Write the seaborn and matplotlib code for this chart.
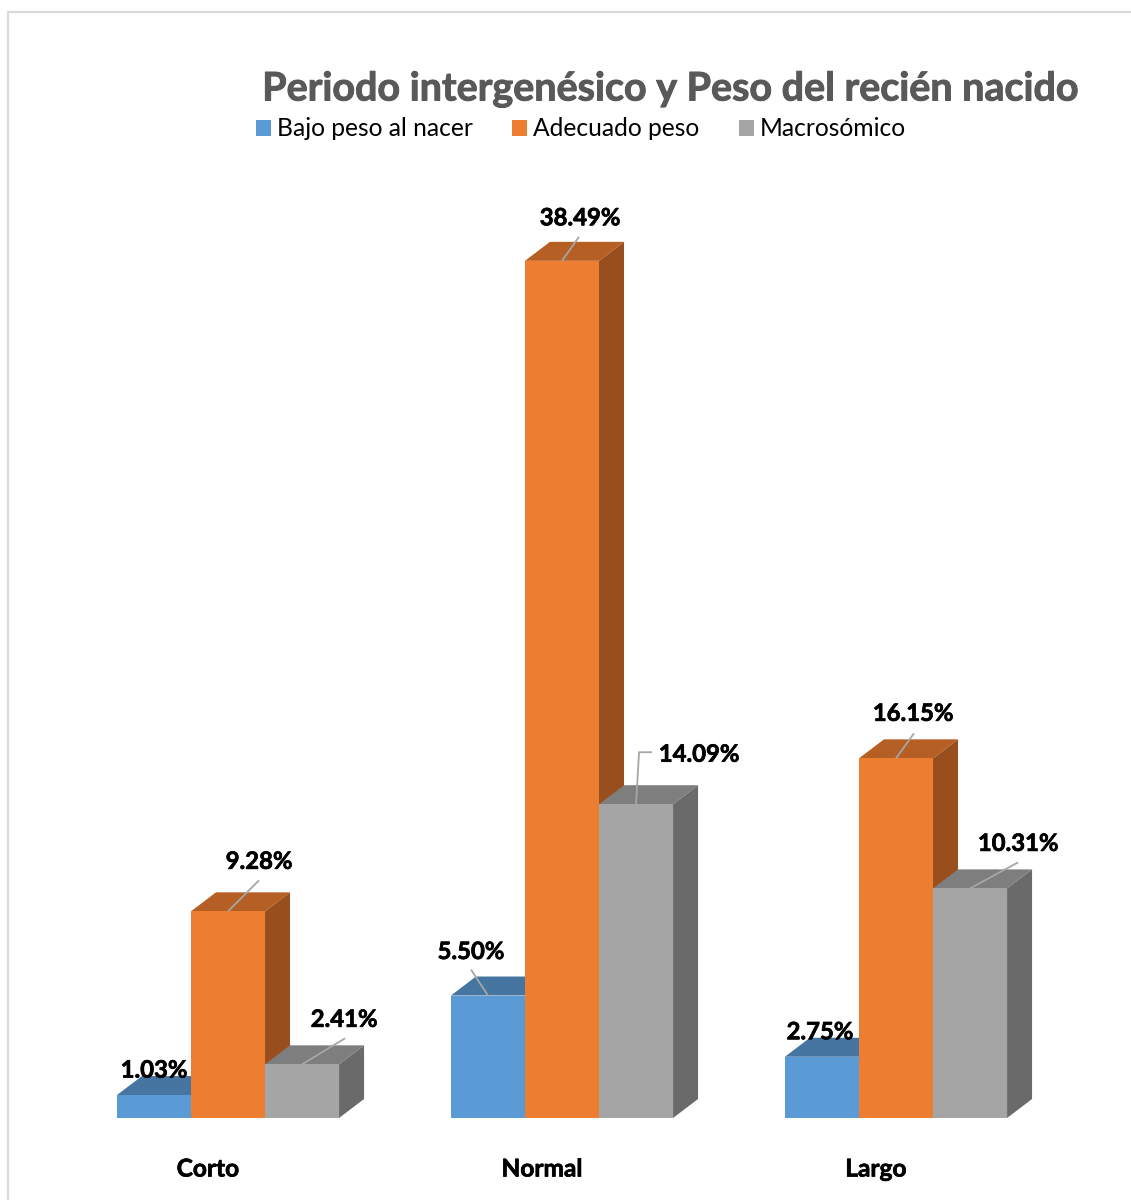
import matplotlib
matplotlib.use('Agg')
import matplotlib.pyplot as plt
import matplotlib.patheffects as pe
from matplotlib.lines import Line2D
from matplotlib.patches import Polygon
import pandas as pd
import seaborn as sns

# Values
periodos = ['Corto', 'Normal', 'Largo']
bajo_peso = [1.03, 5.50, 2.75]
adecuado_peso = [9.28, 38.49, 16.15]
macrosomico = [2.41, 14.09, 10.31]
series_names = ['Bajo peso al nacer', 'Adecuado peso', 'Macrosómico']

front_colors = ['#5B9BD5', '#ED7D31', '#A5A5A5']
top_colors = ['#4675A1', '#B55F25', '#7E7E7E']
side_colors = ['#3F6A91', '#994F1D', '#6A6A6A']

W, H = 1131, 1200
PX_PER_CAT = 334.0
PX_PER_UNIT = 22.27
DEPTH_X, DEPTH_Y = 25, 19

# label offset from the top centre of each bar, in pixels (right, up)
label_offsets = [
    [(0, 25), (31, 50), (42, 45)],
    [(-17, 44), (18, 43), (63, 50)],
    [(-2, 25), (17, 45), (48, 45)],
]
leaders = [
    [None, [(0, 0), (31, 31)], [(0, 0), (43, 26)]],
    [[(0, 0), (-17, 26)], [(0, 0), (17, 24)], [(0, 0), (3, 52), (16, 52)]],
    [None, [(0, 0), (18, 25)], [(0, 0), (48, 26)]],
]

df = pd.DataFrame({
    'periodo': periodos * 3,
    'peso': [n for n in series_names for _ in periodos],
    'pct': bajo_peso + adecuado_peso + macrosomico,
})

sns.set_theme(style='white')
plt.rcParams['font.family'] = ['Lato', 'DejaVu Sans']

fig = plt.figure(figsize=(W / 100, H / 100), dpi=100)
ax = fig.add_axes([0, 0, 1, 1])
sns.barplot(data=df, x='periodo', y='pct', hue='peso', hue_order=series_names,
            palette=front_colors, saturation=1, width=0.665, gap=0, errorbar=None,
            edgecolor='none', linewidth=0, ax=ax, legend=True)

# pixel frame of the picture: first category centre at x=228, baseline at y=1118
ax.set_xlim(-228 / PX_PER_CAT, (W - 228) / PX_PER_CAT)
ax.set_ylim(-(H - 1118) / PX_PER_UNIT, 1118 / PX_PER_UNIT)
ax.axis('off')

dx = DEPTH_X / PX_PER_CAT
dy = DEPTH_Y / PX_PER_UNIT

# Fake 3D: side and top faces built from the bars seaborn drew
z = 3
for cat in range(len(periodos)):
    for s, container in enumerate(ax.containers):
        bar = container[cat]
        x0, x1 = bar.get_x(), bar.get_x() + bar.get_width()
        h = bar.get_height()
        side = Polygon([(x1, 0), (x1 + dx, dy), (x1 + dx, h + dy), (x1, h)],
                       fc=side_colors[s], ec='none', zorder=z)
        top = Polygon([(x0, h), (x0 + dx, h + dy), (x1 + dx, h + dy), (x1, h)],
                      fc=top_colors[s], ec='none', zorder=z + 1)
        ax.add_patch(side)
        ax.add_patch(top)
        bar.set_zorder(z + 2)
        z += 3

bold_black = [pe.withStroke(linewidth=0.5, foreground='black')]

# Data labels and leader lines
for cat in range(len(periodos)):
    for s, container in enumerate(ax.containers):
        bar = container[cat]
        cx = bar.get_x() + bar.get_width() / 2
        h = bar.get_height()
        path = leaders[cat][s]
        if path is not None:
            ax.plot([cx + p[0] / PX_PER_CAT for p in path],
                    [h + p[1] / PX_PER_UNIT for p in path],
                    color='#A6A6A6', lw=1.3, zorder=100, solid_capstyle='butt')
        off = label_offsets[cat][s]
        ax.annotate(f'{h:.2f}%', xy=(cx, h), xytext=off, textcoords='offset pixels',
                    ha='center', va='center', fontsize=17.2, fontweight='bold',
                    color='black', zorder=101, path_effects=bold_black)

# Category labels sit left of the bar group centre
for i, name in enumerate(periodos):
    ax.text(i - 20 / PX_PER_CAT, -51 / PX_PER_UNIT, name, ha='center', va='center',
            fontsize=17.6, fontweight='bold', color='black', path_effects=bold_black)

fig.text(670 / W, 1 - 89 / H, 'Periodo intergenésico y Peso del recién nacido',
         ha='center', va='center', fontsize=28.4, fontweight='bold', color='#595959',
         path_effects=[pe.withStroke(linewidth=0.7, foreground='#595959')])

handles, labels = ax.get_legend_handles_labels()
ax.legend(handles, labels, ncol=3, frameon=False, loc='center left',
          bbox_to_anchor=(255.5 / W, 1 - 129 / H), borderaxespad=0, borderpad=0,
          prop={'size': 17.7}, handlelength=0.62, handleheight=0.62, handletextpad=0.24,
          columnspacing=1.6, labelcolor='black')

# Chart border, cut by the picture edge on the right and bottom
for xs, ys in [([8, 8], [H, 12]), ([8, W], [12, 12])]:
    fig.add_artist(Line2D([x / W for x in xs], [1 - y / H for y in ys],
                          color='#D9D9D9', lw=1.6))

fig.savefig('out.png', dpi=100)
